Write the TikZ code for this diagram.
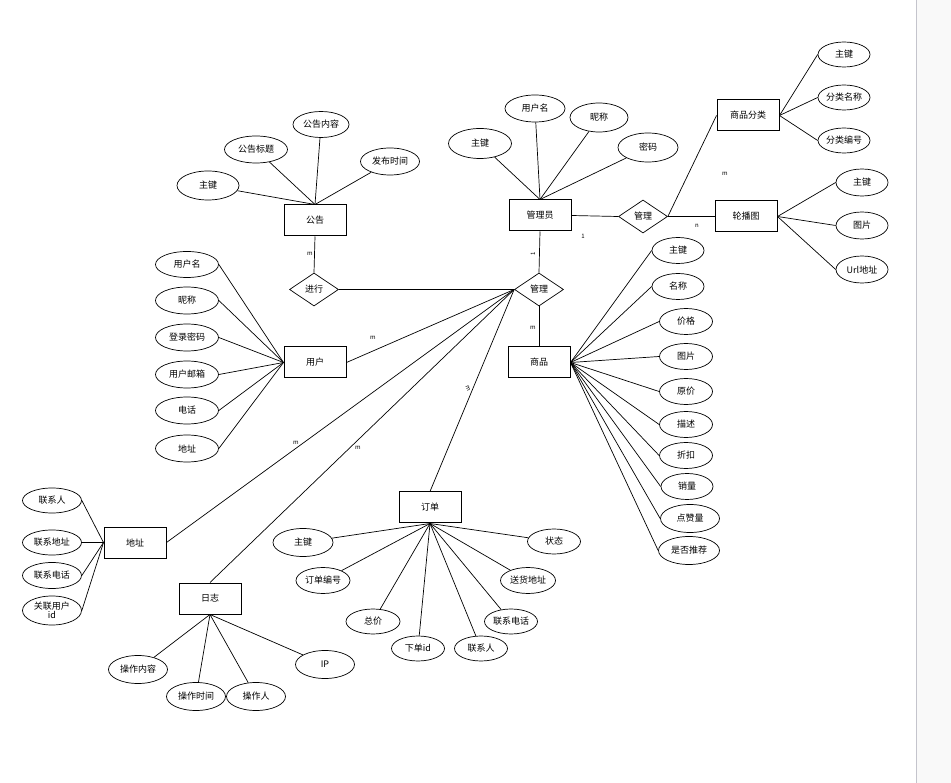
\documentclass[tikz,border=0pt]{standalone}
\usepackage{fontspec}
\setmainfont{Noto Sans CJK SC}
\usetikzlibrary{shapes.geometric}
\definecolor{panel}{HTML}{F9F9F9}
\definecolor{panelline}{HTML}{C4C4CC}
\begin{document}
\begin{tikzpicture}[x=1pt,y=-1pt,
  ent/.style={draw, line width=1pt, minimum width=62pt, minimum height=31pt, inner sep=0pt, font=\fontsize{9}{10}\selectfont},
  attr/.style={draw, ellipse, line width=0.7pt, minimum width=58pt, minimum height=27pt, inner sep=0pt, align=center, font=\fontsize{9}{10}\selectfont},
  rel/.style={draw, diamond, line width=0.7pt, minimum width=49pt, minimum height=33pt, inner sep=0pt, font=\fontsize{9}{10}\selectfont},
  link/.style={line width=0.7pt},
  card/.style={font=\fontsize{6}{6}\selectfont, inner sep=0pt}]
\fill[white] (0,0) rectangle (951,782);
\fill[panel] (917,0) rectangle (951,782);
\draw[panelline, line width=1pt] (916.5,0) -- (916.5,782);

% entities
\node[ent] (gg) at (315,220) {公告};
\node[ent] (gly) at (540,215) {管理员};
\node[ent] (fl) at (748,115) {商品分类};
\node[ent] (lb) at (746,216) {轮播图};
\node[ent] (yh) at (315,362) {用户};
\node[ent] (sp) at (539,362) {商品};
\node[ent] (dz) at (135,542) {地址};
\node[ent] (rz) at (210,598) {日志};
\node[ent] (dd) at (430,507) {订单};

% relations
\node[rel] (jx) at (314,289) {进行};
\node[rel] (gl1) at (539,289) {管理};
\node[rel] (gl2) at (643,216) {管理};

% 公告 attributes
\node[attr, minimum width=62pt, minimum height=29pt] (g1) at (208,185) {主键};
\node[attr, minimum width=63pt, minimum height=27pt] (g2) at (256,149) {公告标题};
\node[attr, minimum width=56pt, minimum height=26pt] (g3) at (321,124) {公告内容};
\node[attr, minimum width=59pt, minimum height=27pt] (g4) at (390,161) {发布时间};
\foreach \a in {g1,g2,g3,g4} \draw[link] (gg.north) -- (\a);

% 管理员 attributes
\node[attr, minimum width=63pt, minimum height=30pt] (m1) at (480,143) {主键};
\node[attr, minimum width=60pt, minimum height=27pt] (m2) at (535,108) {用户名};
\node[attr, minimum width=58pt, minimum height=29pt] (m3) at (599,117) {昵称};
\node[attr, minimum width=60pt, minimum height=29pt] (m4) at (648,147) {密码};
\foreach \a in {m1,m2,m3,m4} \draw[link] (gly.north) -- (\a);

% 商品分类 attributes
\node[attr, minimum width=52pt, minimum height=25pt] (f1) at (844,54) {主键};
\node[attr, minimum width=52pt, minimum height=25pt] (f2) at (844,97) {分类名称};
\node[attr, minimum width=52pt, minimum height=25pt] (f3) at (844,140) {分类编号};
\foreach \a in {f1,f2,f3} \draw[link] (fl.east) -- (\a.west);

% 轮播图 attributes
\node[attr, minimum width=52pt, minimum height=27pt] (l1) at (862,182) {主键};
\node[attr, minimum width=52pt, minimum height=27pt] (l2) at (862,225) {图片};
\node[attr, minimum width=52pt, minimum height=27pt] (l3) at (862,269) {Url地址};
\foreach \a in {l1,l2,l3} \draw[link] (lb.east) -- (\a.west);

% 用户 attributes
\node[attr, minimum width=63pt, minimum height=26pt] (u1) at (187,264) {用户名};
\node[attr, minimum width=63pt, minimum height=27pt] (u2) at (187,300) {昵称};
\node[attr, minimum width=63pt, minimum height=27pt] (u3) at (187,337) {登录密码};
\node[attr, minimum width=63pt, minimum height=27pt] (u4) at (187,374) {用户邮箱};
\node[attr, minimum width=63pt, minimum height=27pt] (u5) at (187,410) {电话};
\node[attr, minimum width=63pt, minimum height=27pt] (u6) at (187,448) {地址};
\foreach \a in {u1,u2,u3,u4,u5,u6} \draw[link] (yh.west) -- (\a.east);

% 商品 attributes
\node[attr, minimum width=52pt, minimum height=26pt] (s1) at (678,250) {主键};
\node[attr, minimum width=52pt, minimum height=26pt] (s2) at (678,286) {名称};
\node[attr, minimum width=53pt, minimum height=26pt] (s3) at (686,321) {价格};
\node[attr, minimum width=53pt, minimum height=26pt] (s4) at (686,356) {图片};
\node[attr, minimum width=53pt, minimum height=26pt] (s5) at (686,391) {原价};
\node[attr, minimum width=53pt, minimum height=26pt] (s6) at (686,424) {描述};
\node[attr, minimum width=53pt, minimum height=26pt] (s7) at (686,455) {折扣};
\node[attr, minimum width=52pt, minimum height=26pt] (s8) at (687,486) {销量};
\node[attr, minimum width=59pt, minimum height=28pt] (s9) at (690,518) {点赞量};
\node[attr, minimum width=61pt, minimum height=28pt] (s10) at (689,550) {是否推荐};
\foreach \a in {s1,s2,s3,s4,s5,s6,s7,s8,s9,s10} \draw[link] (sp.east) -- (\a.west);

% 地址 attributes
\node[attr, minimum width=59pt, minimum height=25pt] (d1) at (52,500) {联系人};
\node[attr, minimum width=59pt, minimum height=25pt] (d2) at (52,542) {联系地址};
\node[attr, minimum width=59pt, minimum height=26pt] (d3) at (52,575) {联系电话};
\node[attr, minimum width=59pt, minimum height=29pt, font=\fontsize{9}{9}\selectfont] (d4) at (52,610) {关联用户\\id};
\foreach \a in {d1,d2,d3,d4} \draw[link] (dz.west) -- (\a.east);

% 日志 attributes
\node[attr, minimum width=59pt, minimum height=28pt] (r1) at (138,669) {操作内容};
\node[attr, minimum width=59pt, minimum height=28pt] (r2) at (196,696) {操作时间};
\node[attr, minimum width=59pt, minimum height=28pt] (r3) at (256,696) {操作人};
\node[attr, minimum width=59pt, minimum height=28pt] (r4) at (325,664) {IP};
\foreach \a in {r1,r2,r3,r4} \draw[link] (rz.south) -- (\a);

% 订单 attributes
\node[attr, minimum width=60pt, minimum height=28pt] (o1) at (303,542) {主键};
\node[attr, minimum width=54pt, minimum height=26pt] (o2) at (323,580) {订单编号};
\node[attr, minimum width=54pt, minimum height=25pt] (o3) at (373,621) {总价};
\node[attr, minimum width=53pt, minimum height=25pt] (o4) at (418,648) {下单id};
\node[attr, minimum width=53pt, minimum height=25pt] (o5) at (481,648) {联系人};
\node[attr, minimum width=53pt, minimum height=25pt] (o6) at (511,621) {联系电话};
\node[attr, minimum width=55pt, minimum height=26pt] (o7) at (528,580) {送货地址};
\node[attr, minimum width=53pt, minimum height=25pt] (o8) at (554,541) {状态};
\foreach \a in {o1,o2,o3,o4,o5,o6,o7,o8} \draw[link] (dd.south) -- (\a);

% relationship connectors
\draw[link] (gg.south) -- (jx.north);
\draw[link] (jx.east) -- (gl1.west);
\draw[link] (gly.south) -- (gl1.north);
\draw[link] (gl1.south) -- (sp.north);
\draw[link] (yh.east) -- (gl1.west);
\draw[link] (dz.east) -- (gl1.west);
\draw[link] (rz.north) -- (gl1.west);
\draw[link] (dd.north) -- (gl1.west);
\draw[link] (gly.east) -- (gl2.west);
\draw[link] (gl2.east) -- (fl.west);
\draw[link] (gl2.east) -- (lb.west);

% cardinalities
\node[card] (c1) at (310,253) {m};
\node[card, rotate=90] (c2) at (533,253) {1};
\node[card] (c3) at (583,236) {1};
\node[card] (c4) at (533,327) {m};
\node[card] (c5) at (373,337) {m};
\node[card] (c6) at (296,442) {m};
\node[card] (c7) at (358,447) {m};
\node[card, rotate=-67] (c8) at (468,388) {m};
\node[card] (c9) at (725,173) {m};
\node[card] (c10) at (697,225) {n};
\end{tikzpicture}
\end{document}
